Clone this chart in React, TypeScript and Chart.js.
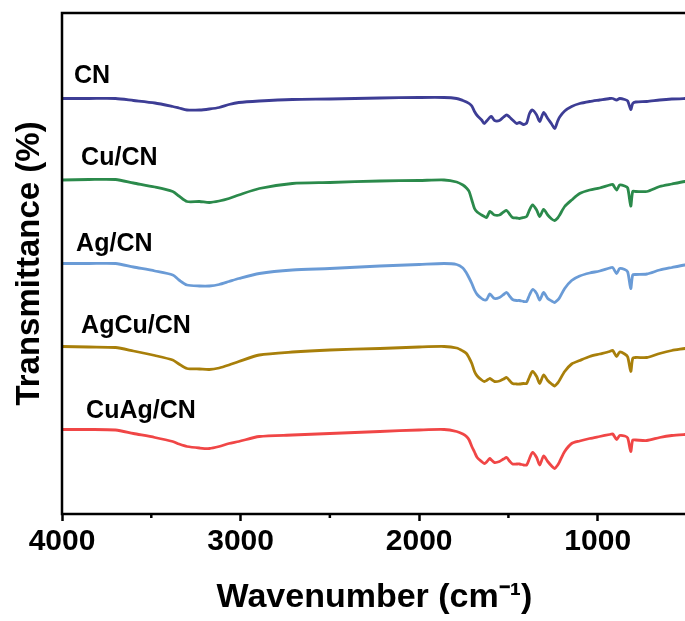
import { useEffect, useRef } from "react";
import { Chart, registerables } from "chart.js";

Chart.register(...registerables);

// Wavenumber grid (cm^-1), descending
const wavenumbers = [
  4000, 3850, 3700, 3600, 3480, 3380, 3345, 3300, 3230, 3175,
  3120, 3065, 3010, 2895, 2710, 2500, 2220, 2000, 1860, 1790,
  1755, 1735, 1720, 1705, 1690, 1675, 1650, 1635, 1622, 1605,
  1595, 1578, 1550, 1527, 1510, 1494, 1477, 1454, 1438, 1415,
  1398, 1382, 1365, 1342, 1325, 1303, 1280, 1258, 1241, 1224,
  1213, 1185, 1146, 1101, 1045, 989, 933, 916, 894, 877,
  849, 832, 815, 804, 787, 725, 653, 585, 512, 500,
];

// Transmittance (arbitrary units, vertically offset)
const cnValues = [
  83.1, 83.1, 83.1, 82.7, 82.2, 81.5, 81.2, 80.8, 80.8, 81.0,
  81.3, 81.9, 82.3, 82.6, 82.9, 83.0, 83.2, 83.3, 83.3, 83.1,
  82.7, 82.4, 82.1, 81.6, 80.5, 79.7, 78.8, 78.1, 78.6, 79.3,
  79.5, 78.7, 78.7, 79.4, 79.8, 79.4, 78.8, 78.1, 78.3, 77.9,
  78.2, 80.1, 80.8, 79.8, 78.5, 80.3, 79.1, 78.0, 77.1, 78.6,
  79.4, 80.6, 81.5, 82.1, 82.5, 82.8, 83.1, 83.1, 82.8, 83.1,
  82.9, 82.6, 80.9, 82.1, 82.4, 82.5, 82.8, 83.0, 83.1, 83.1,
];
const cuCnValues = [
  66.8, 66.9, 66.9, 66.2, 65.4, 64.5, 63.6, 62.5, 62.5, 62.3,
  62.6, 63.1, 63.8, 65.1, 66.1, 66.3, 66.6, 66.7, 66.8, 66.4,
  65.8, 65.2, 64.5, 62.8, 61.1, 60.4, 59.8, 59.5, 59.3, 60.5,
  60.3, 59.8, 59.8, 60.4, 60.7, 60.0, 59.3, 59.2, 59.1, 59.3,
  59.5, 60.8, 61.8, 60.8, 59.5, 60.9, 59.8, 59.0, 58.7, 59.2,
  59.8, 61.5, 62.8, 64.1, 64.8, 65.2, 65.8, 65.9, 64.8, 65.8,
  65.6, 65.2, 61.6, 64.5, 64.5, 64.5, 65.5, 66.0, 66.5, 66.5,
];
const agCnValues = [
  50.1, 50.1, 50.1, 49.4, 48.6, 47.8, 46.8, 45.8, 45.6, 45.6,
  45.9, 46.5, 47.1, 48.1, 48.8, 49.1, 49.6, 49.9, 50.1, 49.9,
  49.2, 48.2, 47.2, 46.1, 44.8, 43.9, 43.1, 42.8, 42.9, 44.0,
  43.7, 43.1, 43.3, 43.9, 44.3, 43.6, 42.9, 42.7, 42.7, 42.5,
  42.5, 43.8, 44.9, 44.1, 42.8, 44.3, 43.1, 42.6, 42.3, 42.8,
  43.3, 45.1, 46.7, 47.6, 48.2, 48.6, 49.2, 49.3, 48.1, 49.1,
  48.9, 48.4, 45.1, 47.8, 47.9, 48.0, 48.8, 49.3, 49.8, 49.8,
];
const agCuCnValues = [
  33.5, 33.4, 33.3, 32.6, 31.7, 30.8, 30.0, 29.1, 29.0, 28.9,
  29.2, 29.8, 30.5, 31.8, 32.4, 32.8, 33.1, 33.4, 33.5, 33.2,
  32.6, 32.1, 31.2, 30.1, 28.5, 27.6, 26.8, 26.5, 26.7, 27.1,
  26.9, 26.5, 26.6, 27.0, 27.3, 26.7, 26.1, 26.0, 26.0, 26.1,
  26.1, 27.4, 28.5, 27.5, 26.1, 27.8, 26.7, 26.0, 25.6, 26.2,
  26.8, 28.5, 30.0, 30.7, 31.5, 32.0, 32.5, 32.7, 31.5, 32.4,
  32.0, 31.4, 28.5, 31.1, 31.3, 31.3, 32.1, 32.7, 33.1, 33.2,
];
const cuAgCnValues = [
  16.9, 16.9, 16.8, 16.1, 15.3, 14.5, 14.0, 13.5, 13.2, 13.1,
  13.5, 14.1, 14.5, 15.5, 15.8, 16.1, 16.5, 16.8, 16.9, 16.5,
  16.0, 15.5, 14.8, 13.5, 12.4, 11.3, 10.5, 10.1, 10.4, 11.1,
  10.8, 10.3, 10.5, 11.0, 11.3, 10.6, 10.0, 10.0, 10.0, 9.8,
  9.8, 11.1, 12.3, 11.3, 9.8, 11.6, 10.5, 9.6, 9.1, 9.8,
  10.5, 12.5, 14.1, 14.6, 15.1, 15.5, 15.9, 16.0, 14.9, 15.7,
  15.6, 15.2, 12.5, 14.8, 14.8, 14.7, 15.3, 15.7, 15.9, 15.9,
];

const seriesNames = ["CN", "Cu/CN", "Ag/CN", "AgCu/CN", "CuAg/CN"];
const seriesValues = [cnValues, cuCnValues, agCnValues, agCuCnValues, cuAgCnValues];
const seriesColors = ["#3d3d95", "#2b8a4b", "#6a9bd6", "#a87f0a", "#f04646"];

const majorTicks = [4000, 3000, 2000, 1000];
const minorTicks = [3500, 2500, 1500];

// label anchors (wavenumber, transmittance level of text baseline)
const labelWavenumbers = [3933, 3893, 3921, 3893, 3865];
const labelLevels = [86.2, 69.8, 52.6, 36.2, 19.2];

const FONT = '"Liberation Sans", Arial, Helvetica, sans-serif';

const framePlugin = {
  id: "frameAndLabels",
  afterDraw(chart: any) {
    const { ctx, chartArea: a, scales } = chart;
    const xs = scales.x;
    const ys = scales.y;
    ctx.save();
    ctx.strokeStyle = "#000";
    ctx.lineWidth = 2.5;
    ctx.strokeRect(a.left, a.top, a.right - a.left, a.bottom - a.top);
    ctx.beginPath();
    minorTicks.forEach((v) => {
      const px = xs.getPixelForValue(v);
      ctx.moveTo(px, a.bottom);
      ctx.lineTo(px, a.bottom + 4);
    });
    ctx.stroke();
    ctx.font = `bold 25px ${FONT}`;
    ctx.fillStyle = "#000";
    ctx.textAlign = "left";
    ctx.textBaseline = "alphabetic";
    seriesNames.forEach((name, i) => {
      ctx.fillText(
        name,
        xs.getPixelForValue(labelWavenumbers[i]),
        ys.getPixelForValue(labelLevels[i])
      );
    });
    ctx.restore();
  },
};

export default function App() {
  const canvasRef = useRef<HTMLCanvasElement | null>(null);

  useEffect(() => {
    const canvas = canvasRef.current;
    if (!canvas) return;
    Chart.defaults.font.family = FONT;
    const chart = new Chart(canvas, {
      type: "line",
      data: {
        datasets: seriesNames.map((name, si) => ({
          label: name,
          data: wavenumbers.map((w, i) => ({ x: w, y: seriesValues[si][i] })),
          borderColor: seriesColors[si],
          backgroundColor: seriesColors[si],
          borderWidth: 2.8,
          pointRadius: 0,
          tension: 0.25,
          fill: false,
        })),
      },
      options: {
        animation: false,
        responsive: false,
        devicePixelRatio: 1,
        layout: { padding: { top: 13, right: 3, left: 0, bottom: 0 } },
        plugins: {
          legend: { display: false },
          tooltip: { enabled: false },
        },
        scales: {
          x: {
            type: "linear",
            reverse: true,
            min: 500,
            max: 4000,
            afterBuildTicks: (s: any) => {
              s.ticks = majorTicks.map((v) => ({ value: v }));
            },
            afterFit: (s: any) => {
              s.height = 107;
            },
            ticks: {
              autoSkip: false,
              maxRotation: 0,
              color: "#000",
              padding: 3,
              callback: (v: any) => String(v),
              font: { size: 30, weight: "bold", family: FONT },
            },
            grid: {
              display: true,
              drawOnChartArea: false,
              drawTicks: true,
              tickLength: 7,
              tickWidth: 2.5,
              tickColor: "#000",
              color: "#000",
            },
            border: { display: false },
            title: {
              display: true,
              text: "Wavenumber (cm\u207B\u00B9)",
              color: "#000",
              font: { size: 34, weight: "bold", family: FONT },
              padding: { top: 0, bottom: 3 },
            },
          },
          y: {
            type: "linear",
            min: 0,
            max: 100.2,
            afterFit: (s: any) => {
              s.width = 62;
            },
            ticks: { display: false },
            grid: { display: false },
            border: { display: false },
            title: {
              display: true,
              text: "Transmittance (%)",
              color: "#000",
              font: { size: 33, weight: "bold", family: FONT },
              padding: { top: 10, bottom: 0 },
            },
          },
        },
      },
      plugins: [framePlugin],
    } as any);
    return () => chart.destroy();
  }, []);

  return (
    <div
      style={{
        position: "fixed",
        left: 0,
        top: 0,
        width: 685,
        height: 621,
        overflow: "hidden",
        background: "#fff",
      }}
    >
      <canvas ref={canvasRef} width={690} height={621} style={{ display: "block" }} />
    </div>
  );
}
